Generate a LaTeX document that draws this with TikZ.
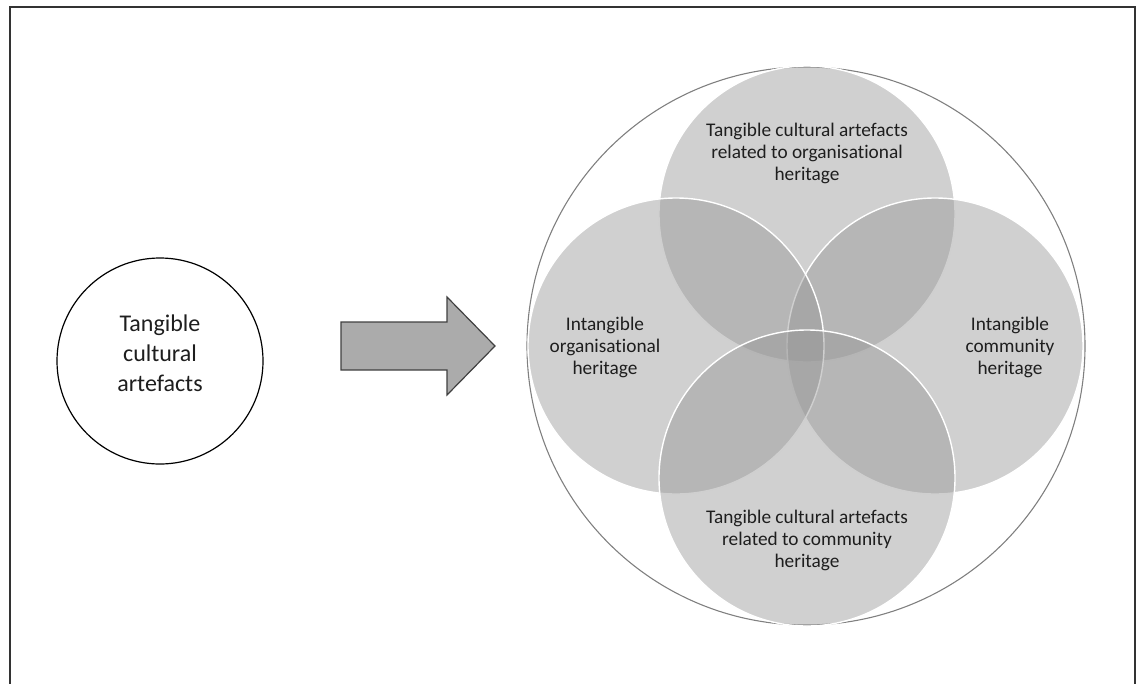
\documentclass[tikz,border=0pt]{standalone}
\usepackage{fontspec}
\setmainfont{Carlito}[Ligatures={NoCommon}]
\definecolor{vennfill}{RGB}{150,150,150}
\definecolor{inktext}{RGB}{30,30,30}
\definecolor{arrowfill}{RGB}{171,171,171}
\definecolor{arrowline}{RGB}{64,64,64}
\begin{document}
\begin{tikzpicture}[x=1pt,y=-1pt,
  frame/.style={draw=black!80, line width=1.6pt},
  source/.style={circle, draw=black, line width=1.2pt, fill=white,
    minimum size=206pt, inner sep=0pt},
  bigtext/.style={align=center, text=inktext, font=\fontsize{24}{30}\selectfont},
  outer/.style={draw=black!50, line width=1.1pt},
  venn/.style={circle, minimum size=296pt, inner sep=0pt,
    fill=vennfill, fill opacity=0.45, draw=white, draw opacity=1, line width=1.4pt},
  label/.style={align=center, text=inktext, font=\fontsize{19.3}{22}\selectfont},
  blockarrow/.style={fill=arrowfill, draw=arrowline, line width=1.2pt, line join=miter}
]
\useasboundingbox (0,0) rectangle (1143,683);
\clip (0,0) rectangle (1143,683);

% page frame, open at the bottom edge
\draw[frame] (10,7) rectangle (1135,720);

% single source circle
\node[source] (src) at (160,361) {};
\node[bigtext] (srctext) at (160,353) {Tangible\\cultural\\artefacts};

% block arrow
\draw[blockarrow] (341,322) -- (447,322) -- (447,297) -- (495,346)
  -- (447,395) -- (447,370) -- (341,370) -- cycle;

% enclosing circle
\node[circle, outer, minimum size=558pt, inner sep=0pt] (ring) at (806,346) {};

% four overlapping heritage circles
\node[venn] (topc)   at (807,214) {};
\node[venn] (rightc) at (935,346) {};
\node[venn] (leftc)  at (676,346) {};
\node[venn] (botc)   at (807,478) {};

\node[label] (toptext) at (807,153) {Tangible cultural artefacts\\related to organisational\\heritage};
\node[label] (lefttext) at (605,347) {Intangible\\organisational\\heritage};
\node[label] (righttext) at (1010,347) {Intangible\\community\\heritage};
\node[label] (bottext) at (807,540) {Tangible cultural artefacts\\related to community\\heritage};
\end{tikzpicture}
\end{document}
